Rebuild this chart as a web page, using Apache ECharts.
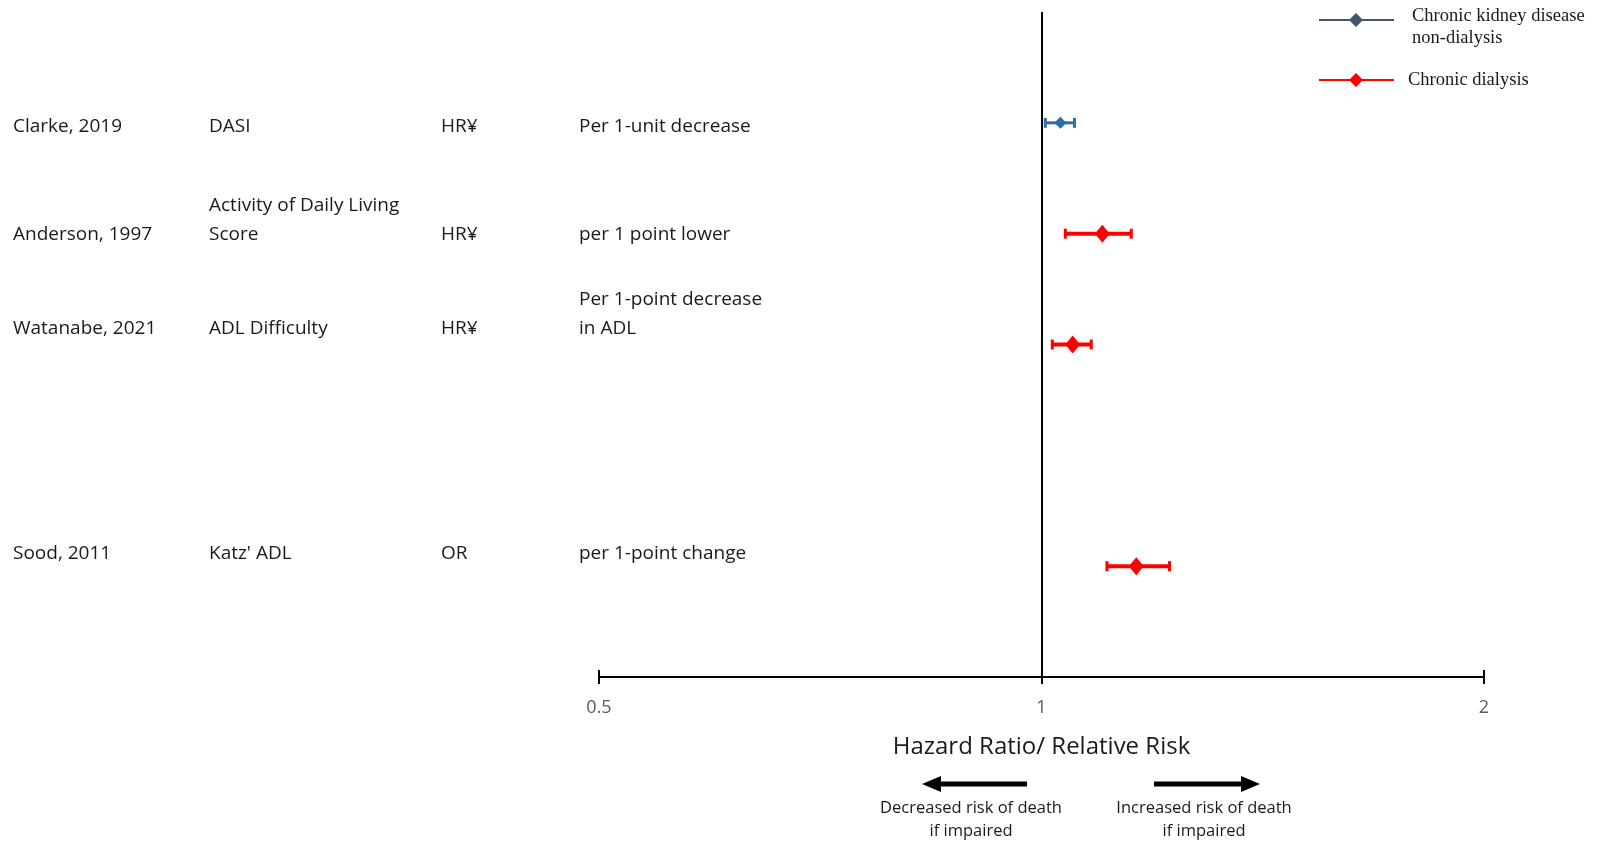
<!DOCTYPE html>
<html><head><meta charset="utf-8">
<script src="https://cdn.jsdelivr.net/npm/echarts@6/dist/echarts.min.js"></script>
<style>html,body{margin:0;padding:0;background:#fff}#c{width:1604px;height:841px}</style>
</head><body><div id="c"></div>
<script>
// ---- data ----
const studies = ['Clarke, 2019', 'Anderson, 1997', 'Watanabe, 2021', 'Sood, 2011'];
const measures = ['DASI', 'Activity of Daily Living\nScore', 'ADL Difficulty', "Katz' ADL"];
const effectTypes = ['HR¥', 'HR¥', 'HR¥', 'OR'];
const units = ['Per 1-unit decrease', 'per 1 point lower', 'Per 1-point decrease\nin ADL', 'per 1-point change'];
const rowIndex = [0, 1, 2, 4];
const estimates = [1.03, 1.10, 1.05, 1.16];
const lower = [1.006, 1.038, 1.017, 1.108];
const upper = [1.053, 1.151, 1.081, 1.222];
const group = ['ckd', 'dialysis', 'dialysis', 'dialysis'];
const xTicks = [0.5, 1, 2];
const legendNames = ['Chronic kidney disease\nnon-dialysis', 'Chronic dialysis'];
const axisTitle = 'Hazard Ratio/ Relative Risk';
const arrowLabels = ['Decreased risk of death\nif impaired', 'Increased risk of death\nif impaired'];

// ---- layout ----
const textRowY = [127, 235, 329, 554];
const colX = [13, 209, 441, 579];
const colors = { ckd: '#2F6DA8', dialysis: '#FF0000' };
const tableFont = '"Open Sans", sans-serif';

const chart = echarts.init(document.getElementById('c'), null, { renderer: 'canvas' });

function mk(g) {
  return rowIndex.map((r, i) => group[i] === g ? [lower[i], r, upper[i]] : null).filter(Boolean);
}
function pts(g) {
  return rowIndex.map((r, i) => group[i] === g ? [estimates[i], r] : null).filter(Boolean);
}
function ciSeries(g, lw, capH) {
  return {
    type: 'custom', xAxisIndex: 0, yAxisIndex: 0, silent: true, z: 3,
    data: mk(g),
    renderItem: function (params, api) {
      const a = api.coord([api.value(0), api.value(1)]);
      const b = api.coord([api.value(2), api.value(1)]);
      const st = { stroke: colors[g], lineWidth: lw };
      return { type: 'group', children: [
        { type: 'line', shape: { x1: a[0], y1: a[1], x2: b[0], y2: b[1] }, style: st },
        { type: 'line', shape: { x1: a[0], y1: a[1] - capH, x2: a[0], y2: a[1] + capH }, style: { stroke: colors[g], lineWidth: 3 } },
        { type: 'line', shape: { x1: b[0], y1: b[1] - capH, x2: b[0], y2: b[1] + capH }, style: { stroke: colors[g], lineWidth: 3 } }
      ]};
    }
  };
}

const graphics = [];
const cols = [studies, measures, effectTypes, units];
cols.forEach((col, c) => {
  col.forEach((t, i) => {
    graphics.push({ type: 'text', left: colX[c], top: textRowY[i] + 14 - (t.split('\n').length) * 29, silent: true,
      style: { text: t, font: '19px ' + tableFont, fill: '#1a1a1a', lineHeight: 29, verticalAlign: 'top' } });
  });
});
// legend
function legendItem(y, color, textLines, tx, ty) {
  graphics.push({ type: 'line', shape: { x1: 1319, y1: y, x2: 1394, y2: y }, style: { stroke: color, lineWidth: 2 } });
  graphics.push({ type: 'polygon', shape: { points: [[1356, y - 7], [1363, y], [1356, y + 7], [1349, y]] }, style: { fill: color } });
  graphics.push({ type: 'text', left: tx, top: ty, style: { text: textLines, font: '18.5px "Liberation Serif", serif', fill: '#1a1a1a', lineHeight: 22 } });
}
legendItem(20, '#44546A', legendNames[0], 1412, 5);
legendItem(80, '#FF0000', legendNames[1], 1408, 69);
// arrows
graphics.push({ type: 'line', shape: { x1: 1027, y1: 784, x2: 938, y2: 784 }, style: { stroke: '#000', lineWidth: 5 } });
graphics.push({ type: 'polygon', shape: { points: [[922, 784], [941, 776], [941, 792]] }, style: { fill: '#000' } });
graphics.push({ type: 'line', shape: { x1: 1154, y1: 784, x2: 1244, y2: 784 }, style: { stroke: '#000', lineWidth: 5 } });
graphics.push({ type: 'polygon', shape: { points: [[1260, 784], [1241, 776], [1241, 792]] }, style: { fill: '#000' } });
graphics.push({ type: 'text', x: 971, y: 797, style: { text: arrowLabels[0], font: '16.5px ' + tableFont, fill: '#1a1a1a', align: 'center', lineHeight: 23 } });
graphics.push({ type: 'text', x: 1204, y: 797, style: { text: arrowLabels[1], font: '16.5px ' + tableFont, fill: '#1a1a1a', align: 'center', lineHeight: 23 } });

const xBase = {
  type: 'log', logBase: 2, min: 0.5, max: 2, interval: 1, gridIndex: 0, position: 'bottom',
  splitLine: { show: false }
};

chart.setOption({
  animation: false,
  grid: { left: 599, right: 120, top: 12, bottom: 164 },
  xAxis: [
    Object.assign({}, xBase, {
      axisLine: { show: true, onZero: false, lineStyle: { color: '#000', width: 2 } },
      axisTick: { show: true, length: 7, lineStyle: { color: '#000', width: 2 } },
      axisLabel: { show: true, margin: 22, fontSize: 18, color: '#595959', fontFamily: tableFont,
        formatter: v => { const m = xTicks.find(t => Math.abs(t - v) < 1e-6); return m === undefined ? '' : String(m); } },
      name: axisTitle, nameLocation: 'middle', nameGap: 58,
      nameTextStyle: { fontSize: 24, color: '#1a1a1a', fontFamily: tableFont }
    }),
    Object.assign({}, xBase, {
      axisLine: { show: false, onZero: false },
      axisTick: { show: true, inside: true, length: 7, lineStyle: { color: '#000', width: 2 } },
      axisLabel: { show: false }
    })
  ],
  yAxis: { type: 'value', min: -1, max: 5, inverse: true, show: false },
  series: [
    ciSeries('ckd', 3, 5),
    ciSeries('dialysis', 4, 5),
    { type: 'scatter', name: 'ckd', symbol: 'diamond', symbolSize: [12, 12], z: 4,
      itemStyle: { color: colors.ckd, opacity: 1 }, data: pts('ckd'),
      markLine: { silent: true, symbol: 'none', label: { show: false },
        lineStyle: { color: '#000', width: 2, type: 'solid' }, data: [{ xAxis: 1 }] } },
    { type: 'scatter', name: 'dialysis', symbol: 'diamond', symbolSize: [15, 18], z: 4,
      itemStyle: { color: colors.dialysis, opacity: 1 }, data: pts('dialysis') }
  ],
  graphic: graphics
});
</script></body></html>
